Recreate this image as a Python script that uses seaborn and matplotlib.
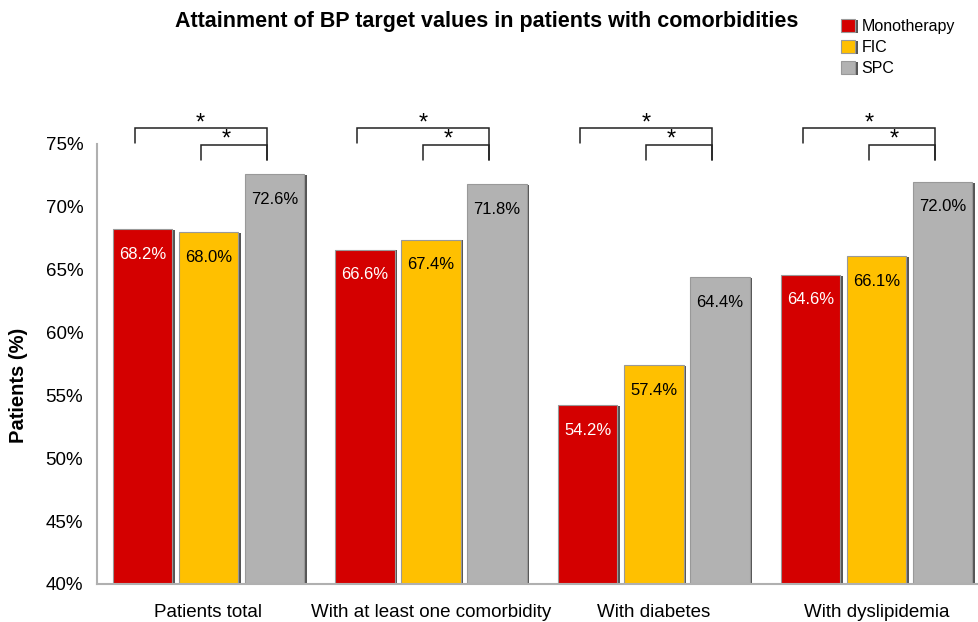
import numpy as np
import pandas as pd
import matplotlib
matplotlib.use("Agg")
import matplotlib.pyplot as plt
import matplotlib.patheffects as pe
import seaborn as sns

categories = ["Patients total", "With at least one comorbidity", "With diabetes", "With dyslipidemia"]
groups = ["Monotherapy", "FIC", "SPC"]
monotherapy = [68.2, 66.6, 54.2, 64.6]
fic = [68.0, 67.4, 57.4, 66.1]
spc = [72.6, 71.8, 64.4, 72.0]
y_ticks = [40, 45, 50, 55, 60, 65, 70, 75]

colors = ["#d40000", "#ffc000", "#b2b2b2"]
label_colors = ["white", "black", "black"]


def build_frame():
    rows = []
    for g, vals in zip(groups, [monotherapy, fic, spc]):
        for c, v in zip(categories, vals):
            rows.append({"Category": c, "Group": g, "Value": v})
    return pd.DataFrame(rows)


def bracket(ax, x0, x1, y_top, y0_bot, y1_bot, star_x):
    ax.plot([x0, x0, x1, x1], [y0_bot, y_top, y_top, y1_bot], color="#222222",
            lw=1.1, clip_on=False, solid_joinstyle="miter")
    ax.text(star_x, y_top - 0.5, "*", ha="center", va="bottom",
            fontsize=17, clip_on=False)


def main():
    df = build_frame()
    sns.set_style("white")
    plt.rcParams["font.family"] = ["Liberation Sans", "DejaVu Sans"]
    plt.rcParams["text.color"] = "black"
    plt.rcParams["xtick.labelcolor"] = "black"
    plt.rcParams["ytick.labelcolor"] = "black"

    fig = plt.figure(figsize=(9.79, 6.22), dpi=100)
    ax = fig.add_axes([0.0991, 0.0611, 0.910, 0.7074])

    sns.barplot(data=df, x="Category", y="Value", hue="Group", order=categories,
                hue_order=groups, palette=colors, saturation=1, width=0.89, gap=0.1,
                edgecolor="#999999", linewidth=0.8, ax=ax, legend=True)

    shadow = [pe.SimplePatchShadow(offset=(1.8, -0.6), shadow_rgbFace="#444444", alpha=0.9),
              pe.Normal()]
    for bars in ax.containers:
        for b in bars:
            b.set_path_effects(shadow)

    ax.set_ylim(40, 75)
    ax.set_xlim(-0.5, len(categories) - 0.5)
    ax.set_yticks(y_ticks)
    ax.set_yticklabels([f"{t}%" for t in y_ticks], fontsize=13.5)

    # labels inside bars
    for bars, tc in zip(ax.containers, label_colors):
        for b in bars:
            h = b.get_height()
            ax.text(b.get_x() + b.get_width() / 2, h - 2.0, f"{h:.1f}%",
                    ha="center", va="center", fontsize=12, color=tc)

    # significance brackets
    red, yel, gry = ax.containers
    for i in range(len(categories)):
        off = -0.035
        xr = red[i].get_x() + red[i].get_width() / 2 + off
        xy = yel[i].get_x() + yel[i].get_width() / 2 + off
        xg = gry[i].get_x() + gry[i].get_width() / 2 + off
        bracket(ax, xr, xg, 76.27, 75.08, 73.73, (xr + xg) / 2)
        bracket(ax, xy, xg, 74.95, 73.73, 73.73, (xy + xg) / 2 - 0.035)

    # x axis: ticks at group boundaries, labels at centers
    ax.set_xticks(np.arange(len(categories) + 1) - 0.5)
    ax.set_xticklabels([])
    ax.set_xticks(np.arange(len(categories)), minor=True)
    ax.set_xticklabels(categories, minor=True, fontsize=13.5)
    ax.tick_params(axis="x", which="major", length=8, width=1.5, color="#b0b0b0", direction="out")
    ax.tick_params(axis="x", which="minor", length=0, pad=14.5)
    ax.tick_params(axis="y", length=4, width=1.5, color="#b0b0b0", direction="out", pad=6)
    ax.set_xlabel("")
    ax.set_ylabel("")
    fig.text(19 / 979, 1 - 385 / 622, "Patients (%)", rotation=90, ha="center", va="center",
             fontsize=14.5, fontweight="bold")

    for s in ["top", "right"]:
        ax.spines[s].set_visible(False)
    for s in ["left", "bottom"]:
        ax.spines[s].set_color("#b0b0b0")
        ax.spines[s].set_linewidth(1.5)

    handles, labels = ax.get_legend_handles_labels()
    for h in handles:
        h.set_path_effects(shadow)
    ax.legend(handles, labels, loc="upper left", bbox_to_anchor=(0.844, 0.993),
              bbox_transform=fig.transFigure, frameon=False, fontsize=11.5,
              handlelength=0.9, handleheight=0.9, handletextpad=0.4, labelspacing=0.38)

    fig.text(0.497, 0.965, "Attainment of BP target values in patients with comorbidities",
             ha="center", va="center", fontsize=15.5, fontweight="bold")

    fig.savefig("out.png", dpi=100)


if __name__ == "__main__":
    main()
